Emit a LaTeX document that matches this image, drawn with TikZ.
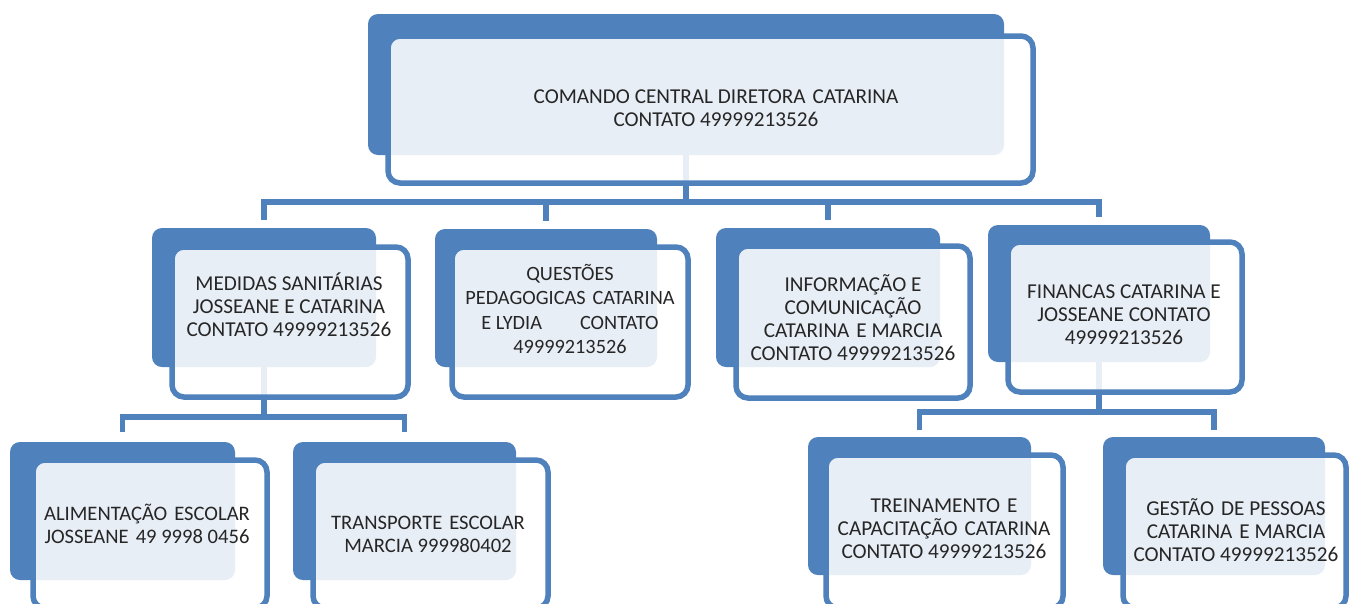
\documentclass[tikz,border=0pt]{standalone}
\usepackage{fontspec}
\setmainfont{Carlito}
\usetikzlibrary{fit}
\definecolor{oblue}{RGB}{79,129,189}
\newcommand\dsp{\hspace{7pt}}
\begin{document}
\begin{tikzpicture}[x=1pt,y=-1pt,
  back/.style={fill=oblue, draw=none, rounded corners=10pt, inner sep=0pt},
  front/.style={draw=oblue, line width=5.5pt, fill=white, fill opacity=0.87, rounded corners=12pt, inner sep=0pt},
  lbl/.style={align=center, text=black!85, font=\fontsize{21.2}{23}\selectfont, inner sep=0pt},
  conn/.style={draw=oblue, line width=5.5pt}]
\useasboundingbox (0,0) rectangle (1349,603);
\fill[white] (0,0) rectangle (1349,603);
\clip (0,0) rectangle (1349,603);

% back shapes
\node[back, fit={(368,14)(1004,155)}] (topb) {};
\node[back, fit={(152,228)(376,367)}] (medb) {};
\node[back, fit={(435,229)(657,367)}] (queb) {};
\node[back, fit={(716,228)(940,367)}] (infb) {};
\node[back, fit={(988,225)(1210,362)}] (finb) {};
\node[back, fit={(10,442)(235,580)}] (alib) {};
\node[back, fit={(293,442)(516,580)}] (trab) {};
\node[back, fit={(808,437)(1031,575)}] (treb) {};
\node[back, fit={(1103,437)(1325,575)}] (gesb) {};

% bus coordinates
\coordinate (bus1) at (686,202);
\coordinate (bus2) at (264,417);
\coordinate (bus3) at (1099,412);

% connectors (under the fronts)
\draw[conn] (topb.south) -- (bus1);
\draw[conn] ([yshift=8pt]medb.north) |- (bus1) -| ([yshift=8pt]finb.north);
\draw[conn] ([yshift=8pt]queb.north) -- (queb.north |- bus1);
\draw[conn] ([yshift=8pt]infb.north) -- (infb.north |- bus1);
\draw[conn] (medb.south) -- (bus2);
\draw[conn] ([yshift=10pt]alib.north) |- (bus2) -| ([yshift=10pt]trab.north);
\draw[conn] (finb.south) -- (bus3);
\draw[conn] ([yshift=7pt]treb.north) |- (bus3) -| ([yshift=7pt]gesb.north);

% front shapes
\node[front, fit={(388,36)(1033,183)}] (topf) {};
\node[front, fit={(172,247)(408,397)}] (medf) {};
\node[front, fit={(452,247)(688,397)}] (quef) {};
\node[front, fit={(736,246)(970,398)}] (inff) {};
\node[front, fit={(1008,242)(1242,392)}] (finf) {};
\node[front, fit={(33,460)(267,608)}] (alif) {};
\node[front, fit={(313,460)(548,608)}] (traf) {};
\node[front, fit={(826,455)(1063,608)}] (tref) {};
\node[front, fit={(1123,455)(1346,608)}] (gesf) {};

% labels
\node[lbl] (topt) at (716,108) {COMANDO CENTRAL DIRETORA\dsp CATARINA\\CONTATO 49999213526};
\node[lbl] (medt) at (289,305) {MEDIDAS SANITÁRIAS\\JOSSEANE E CATARINA\\CONTATO 49999213526};
\node[lbl, font=\fontsize{20.3}{24.5}\selectfont] (quet) at (570,309) {QUESTÕES\\PEDAGOGICAS\dsp CATARINA\\E LYDIA\hspace{38pt}CONTATO\\49999213526};
\node[lbl] (inft) at (853,318) {INFORMAÇÃO E\\COMUNICAÇÃO\\CATARINA\dsp E MARCIA\\CONTATO 49999213526};
\node[lbl] (fint) at (1124,315) {FINANCAS CATARINA E\\JOSSEANE CONTATO\\49999213526};
\node[lbl, font=\fontsize{20.6}{23}\selectfont] (alit) at (147,524) {ALIMENTAÇÃO\dsp ESCOLAR\\JOSSEANE\dsp 49 9998 0456};
\node[lbl, font=\fontsize{20.6}{23}\selectfont] (trat) at (428,534) {TRANSPORTE\dsp ESCOLAR\\MARCIA 999980402};
\node[lbl] (tret) at (944,529) {TREINAMENTO\dsp E\\CAPACITAÇÃO\dsp CATARINA\\CONTATO 49999213526};
\node[lbl] (gest) at (1236,530) {GESTÃO\dsp DE PESSOAS\\CATARINA\dsp E MARCIA\\CONTATO 49999213526};
\end{tikzpicture}
\end{document}
